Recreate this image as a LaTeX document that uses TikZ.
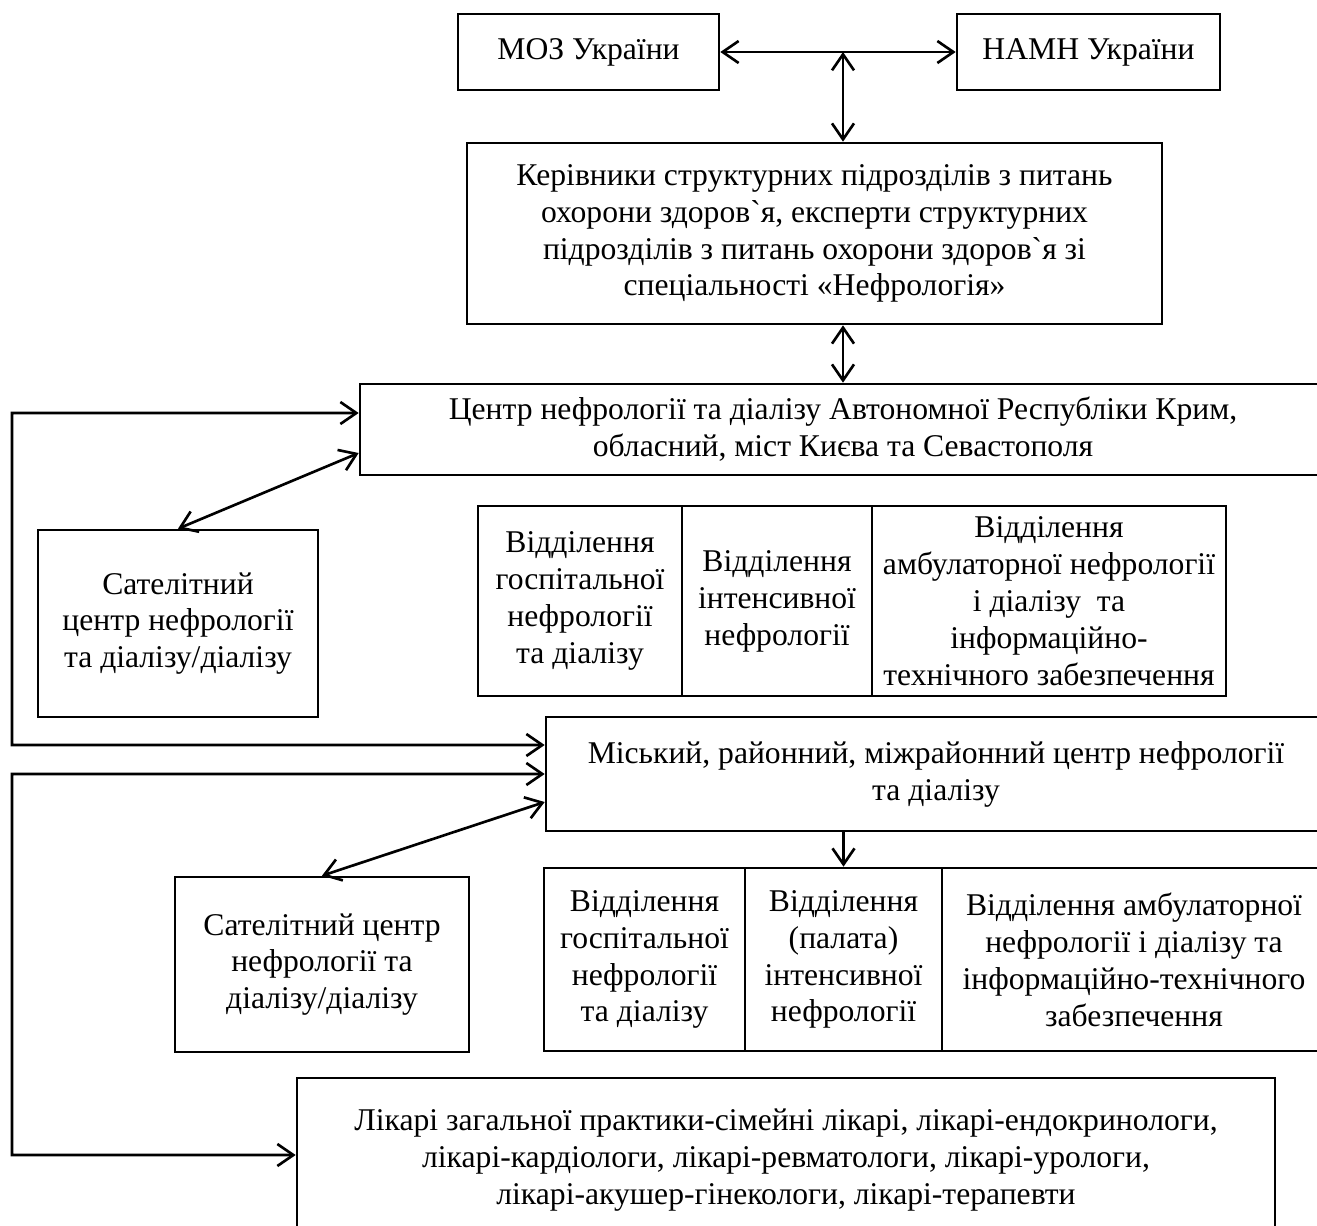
\documentclass[tikz,border=0pt]{standalone}
\usepackage{fontspec}
\setmainfont{Liberation Serif}
\usetikzlibrary{arrows.meta}
\newcommand\grv{\XeTeXglyph\XeTeXglyphindex "grave" }

\begin{document}
\begin{tikzpicture}[x=0.2mm, y=-0.2mm,
  box/.style={draw, line width=1.5pt, align=center, inner sep=0pt, font=\fontsize{18}{21}\selectfont},
  link/.style={line width=1.5pt, -{Straight Barb[length=3.2mm, width=4.4mm]}},
  dlink/.style={line width=1.5pt, {Straight Barb[length=3.2mm, width=4.4mm]}-{Straight Barb[length=3.2mm, width=4.4mm]}}]
\path[use as bounding box] (0,0) rectangle (1317,1225);
% top level
\node[box, minimum width=52.2mm, minimum height=15.2mm] (moz) at (588.5,52) {МОЗ України};
\node[box, minimum width=52.6mm, minimum height=15.2mm] (namn) at (1088.5,52) {НАМН України};
\node[box, minimum width=139mm, minimum height=36.2mm] (kerivn) at (814.5,233.5) {Керівники структурних підрозділів з питань\\охорони здоров\grv я, експерти структурних\\підрозділів з питань охорони здоров\grv я зі\\спеціальності «Нефрологія»};
\coordinate (axis) at (843,52);
\draw[dlink] (moz) -- (namn);
\draw[dlink] (axis) -- (axis |- kerivn.north);
% regional centre
\node[box, minimum width=193.2mm, minimum height=18.2mm] (centr) at (843,429.5) {Центр нефрології та діалізу Автономної Республіки Крим,\\обласний, міст Києва та Севастополя};
\draw[dlink] (centr.north |- kerivn.south) -- (centr.north);
\node[box, minimum width=40.8mm, minimum height=38mm] (vid1) at (580,601) {Відділення\\госпітальної\\нефрології\\та діалізу};
\node[box, minimum width=38mm, minimum height=38mm] (vid2) at (777,601) {Відділення\\інтенсивної\\нефрології};
\node[box, minimum width=70.8mm, minimum height=38mm] (vid3) at (1049,601) {Відділення\\амбулаторної нефрології\\і діалізу\ \ та\\інформаційно-\\технічного забезпечення};
\node[box, minimum width=56mm, minimum height=37.4mm] (sat1) at (178,623.5) {Сателітний\\центр нефрології\\та діалізу/діалізу};
\draw[dlink] (sat1.north) -- ([yshift=-4.7mm]centr.west);
% city centre
\node[box, minimum width=156mm, minimum height=22.8mm] (mis) at (936,774) {Міський, районний, міжрайонний центр нефрології\\та діалізу};
\draw[dlink] ([yshift=3.3mm]centr.west) -| (12,745) -- ([yshift=5.8mm]mis.west);
\node[box, minimum width=58.8mm, minimum height=35mm] (sat2) at (322,964.5) {Сателітний центр\\нефрології та\\діалізу/діалізу};
\draw[dlink] (sat2.north) -- ([yshift=-5.6mm]mis.west);
\node[box, minimum width=40.2mm, minimum height=36.6mm] (vid4) at (644.5,959.5) {Відділення\\госпітальної\\нефрології\\та діалізу};
\node[box, minimum width=39.4mm, minimum height=36.6mm] (vid5) at (843.5,959.5) {Відділення\\(палата)\\інтенсивної\\нефрології};
\node[box, minimum width=76.8mm, minimum height=36.6mm] (vid6) at (1134,959.5) {Відділення амбулаторної\\нефрології і діалізу та\\інформаційно-технічного\\забезпечення};
\draw[link] (vid5.north |- mis.south) -- (vid5.north);
% doctors
\node[box, minimum width=195.6mm, minimum height=32.8mm] (lik) at (786,1160) {Лікарі загальної практики-сімейні лікарі, лікарі-ендокринологи,\\лікарі-кардіологи, лікарі-ревматологи, лікарі-урологи,\\лікарі-акушер-гінекологи, лікарі-терапевти};
\draw[dlink] (mis.west) -| (12,1155) -- ([yshift=1mm]lik.west);
\end{tikzpicture}
\end{document}
